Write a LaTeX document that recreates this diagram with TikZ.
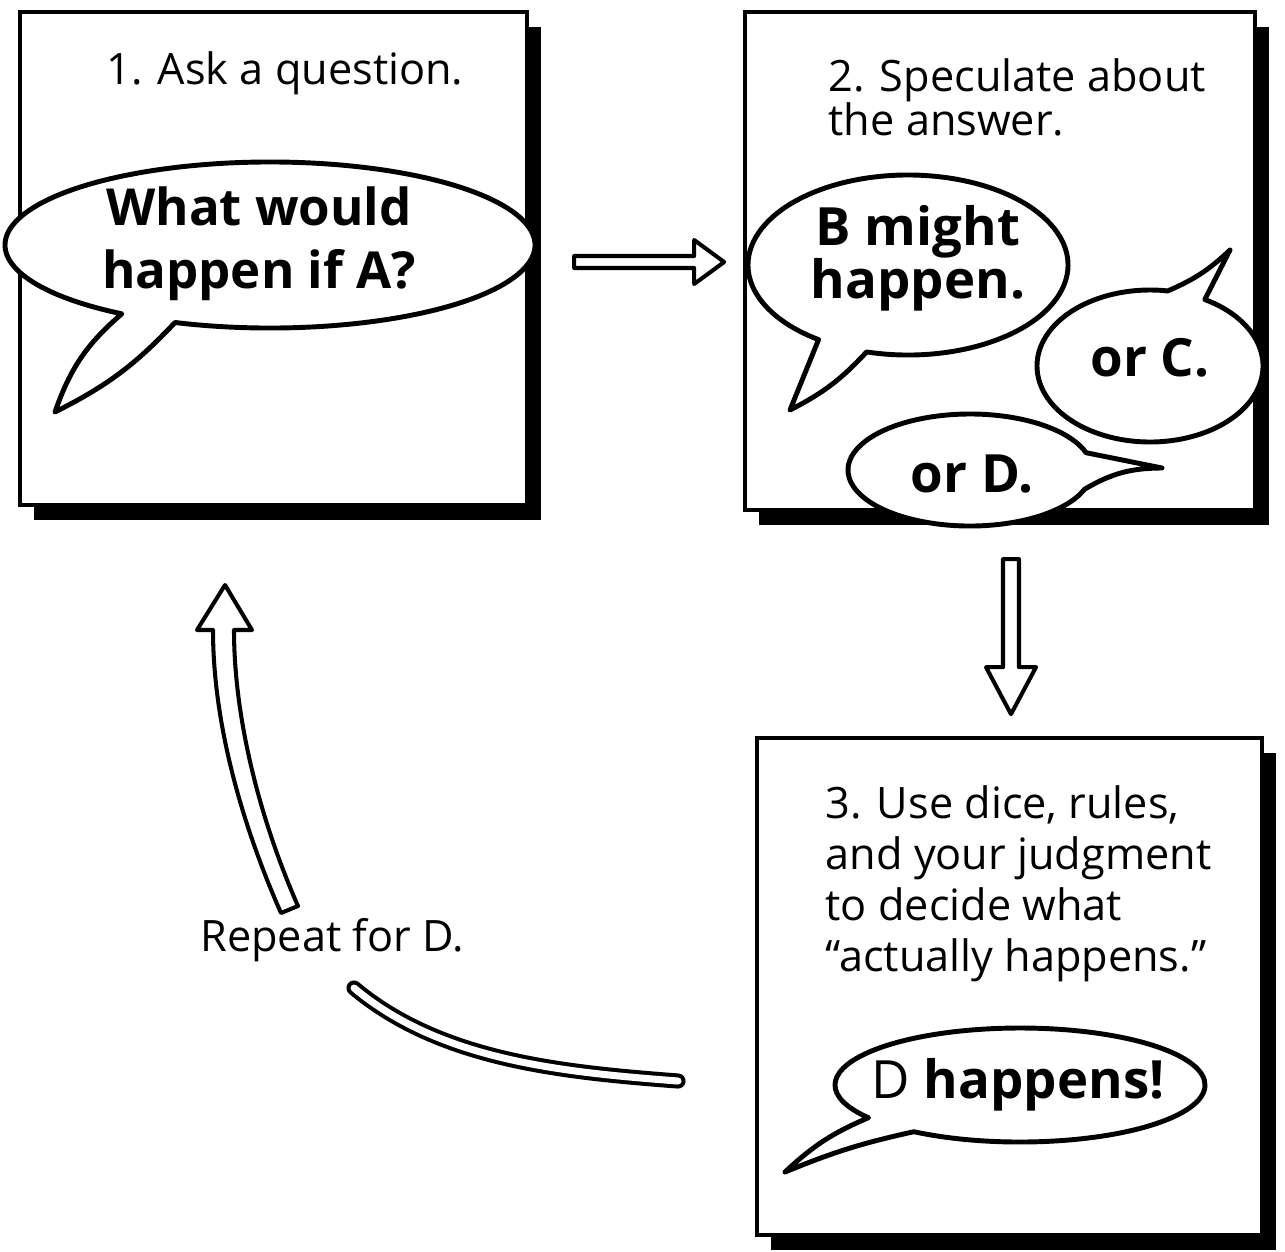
\documentclass[tikz,border=0pt]{standalone}
\usepackage{fontspec}
\setmainfont{Open Sans}
\usetikzlibrary{shadows,calc}

\tikzset{
  panel/.style={draw, fill=white, line width=1.15pt, rectangle, inner sep=0pt,
    drop shadow={shadow xshift=0.14cm, shadow yshift=-0.15cm, fill=black, opacity=1}},
  bubble/.style={draw, fill=white, line width=1.4pt, line join=round},
  says/.style={inner sep=0pt, align=center, font=\fontsize{15}{15.1}\selectfont\bfseries},
  caption/.style={inner sep=0pt, font=\fontsize{12.3}{14.5}\selectfont},
  hollow/.style={draw, fill=white, line width=1.15pt, line join=round},
}

% speech bubble: centre, x radius, y radius, tail start angle, tail end angle, tip, bend, bend
\newcommand\bubble[8]{%
  \filldraw[bubble] ($(#1)+(#4:#2 and #3)$) to[bend left=#7] (#6) to[bend left=#8]
    ($(#1)+(#5:#2 and #3)$) arc[start angle=#5, end angle=#4, x radius=#2, y radius=#3] -- cycle;}

\begin{document}
\begin{tikzpicture}[x=0.01cm, y=-0.01cm]
\useasboundingbox (0,0) rectangle (1285,1251);

% panels
\node[panel, minimum width=5.07cm, minimum height=4.93cm] (p1) at (273.5,258.5) {};
\node[panel, minimum width=5.10cm, minimum height=4.98cm] (p2) at (1000,261) {};
\node[panel, minimum width=5.05cm, minimum height=4.97cm] (p3) at (1009.5,986.5) {};

% step 1
\node[caption] (c1) at (285,73) {1. Ask a question.};
\bubble{270,245}{265}{83}{-236}{111}{55,412}{-15}{-10}
\node[says, font=\fontsize{14.5}{18}\selectfont\bfseries] (q1) at (259,244) {What would\\happen if A?};

% step 2
\node[caption, anchor=north west, align=left, font=\fontsize{12.3}{12.5}\selectfont] (c2) at (828,58)
  {2. Speculate about\\the answer.};
\bubble{908,265}{160}{90}{-236}{105}{790,410}{0}{-10}
\node[says] (sb) at (918,258) {B might\\happen.};
\bubble{1150,366}{113}{76}{279}{-61}{1230,250}{-10}{0}
\node[says] (sc) at (1150,358) {or C.};
\bubble{970,470}{122}{56}{342}{20}{1162,468}{0}{-15}
\node[says] (sd) at (972,474) {or D.};

% step 3
\node[caption, anchor=north west, align=left] (c3) at (825,785)
  {3. Use dice, rules,\\and your judgment\\to decide what\\“actually happens.”};
\bubble{1020,1085}{185}{57}{-215}{125}{785,1172}{-10}{5}
\node[says, font=\fontsize{15}{15}\selectfont] (dh) at (1018,1085) {D \textbf{happens!}};

% arrows between the steps
\coordinate (a1) at ($(p1.east)+(45,3.5)$);
\draw[hollow] (a1) ++(0,-6) -- ++(120,0) -- ++(0,-16) -- ++(30,22) -- ++(-30,22)
  -- ++(0,-16) -- ++(-120,0) -- cycle;
\coordinate (a2) at ($(p2.south)+(11,47)$);
\draw[hollow] (a2) ++(-8,0) -- ++(0,108) -- ++(-17,0) -- ++(25,47) -- ++(25,-47)
  -- ++(-17,0) -- ++(0,-108) -- cycle;

% back to step 1
\node[caption] (rep) at (332,940) {Repeat for D.};
\coordinate (r1) at (289,910);
\coordinate (r2) at (225,585);
\draw[hollow] (r1) ++(-8,3) .. controls (240,820) and (213,720) .. (213,630) -- (197,630)
  -- (r2) -- (252,630) -- (234,630) .. controls (234,715) and (258,815) .. (298,906) -- cycle;
\coordinate (r3) at (678,1081);
\coordinate (r4) at (354,988);
\draw[line width=1.15pt, double=white, double distance=2pt, line cap=round]
  (r3) .. controls (560,1072) and (440,1060) .. (r4);
\end{tikzpicture}
\end{document}
